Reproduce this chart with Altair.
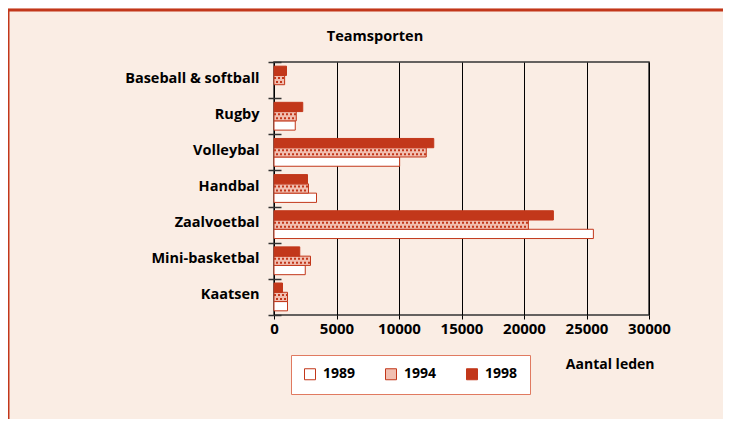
import altair as alt
import pandas as pd

sports = ["Baseball & softball", "Rugby", "Volleybal", "Handbal",
          "Zaalvoetbal", "Mini-basketbal", "Kaatsen"]
years = ["1989", "1994", "1998"]
v1989 = [None, 1700, 10050, 3400, 25550, 2500, 1080]
v1994 = [850, 1780, 12180, 2760, 20350, 2920, 1080]
v1998 = [1000, 2300, 12780, 2680, 22350, 2060, 680]
x_ticks = [0, 5000, 10000, 15000, 20000, 25000, 30000]
title_text = ["Teamsporten"]

RED = "#C2371A"
BG = "#FAEDE4"
FONT = "Open Sans"

rows = []
for yr, vals in zip(years, [v1989, v1994, v1998]):
    for s, v in zip(sports, vals):
        if v is not None:
            rows.append({"sport": s, "year": yr, "value": v, "zero": 0})
df = pd.DataFrame(rows)
df94 = df[df["year"] == "1994"]

y_enc = alt.Y("sport:N", sort=sports, title=None,
              scale=alt.Scale(paddingInner=0, paddingOuter=0),
              axis=alt.Axis(tickBand="extent", offset=-7, tickSize=13, domain=False,
                            tickColor="#333333", tickWidth=1.5,
                            labelPadding=9, labelFont=FONT, labelFontSize=14.5,
                            labelFontWeight="bold", labelColor="black", labelOffset=-2))
x_enc = alt.X("value:Q", scale=alt.Scale(domain=[0, 30000], nice=False),
              axis=alt.Axis(values=x_ticks, format="d", title="Aantal leden",
                            domain=False, grid=True, gridColor="black", gridWidth=1,
                            tickSize=4, tickColor="black", labelPadding=2,
                            labelFont=FONT, labelFontSize=15, labelFontWeight="bold",
                            labelColor="black", labelFlush=False,
                            titleFont=FONT, titleFontSize=14, titleFontWeight="bold",
                            titleAnchor="end", titleAlign="right", titleBaseline="middle",
                            titleX=380, titleY=49))

bars = alt.Chart(df).mark_bar(stroke=RED, strokeWidth=1).encode(
    y=y_enc,
    x=x_enc,
    yOffset=alt.YOffset("year:N", sort=["1998", "1994", "1989"],
                        scale=alt.Scale(paddingInner=0, paddingOuter=0.45)),
    color=alt.Color("year:N", sort=years,
                    scale=alt.Scale(domain=years, range=["white", "#F1BFB1", RED]),
                    legend=alt.Legend(orient="none", legendX=17, legendY=293,
                                      direction="horizontal", title=None,
                                      fillColor="white", strokeColor="#E07A60",
                                      padding=12, symbolType="square", symbolSize=121,
                                      symbolStrokeColor=RED, symbolStrokeWidth=1,
                                      labelFont=FONT, labelFontSize=14,
                                      labelFontWeight="bold", labelColor="black",
                                      labelOffset=6, columnPadding=27)),
)

dots1 = alt.Chart(df94).mark_rule(color=RED, strokeWidth=2, strokeDash=[2, 2],
                                  yOffset=-2).encode(
    y=alt.Y("sport:N", sort=sports), x="zero:Q", x2="value:Q")
dots2 = alt.Chart(df94).mark_rule(color=RED, strokeWidth=2, strokeDash=[2, 2],
                                  strokeDashOffset=2, yOffset=2).encode(
    y=alt.Y("sport:N", sort=sports), x="zero:Q", x2="value:Q")

one = pd.DataFrame({"t": title_text})
title = alt.Chart(one).mark_text(font=FONT, fontSize=14.5, fontWeight="bold",
                                 color="black", align="center", baseline="middle").encode(
    x=alt.value(101), y=alt.value(-25), text="t:N")
frame_left = alt.Chart(one).mark_rule(color=RED, strokeWidth=3).encode(
    x=alt.value(-266), y=alt.value(-53), y2=alt.value(420))
frame_top = alt.Chart(one).mark_rule(color=RED, strokeWidth=3).encode(
    x=alt.value(-267), x2=alt.value(470), y=alt.value(-52))

chart = alt.layer(bars, dots1, dots2, title, frame_left, frame_top).properties(
    width=375, height=253,
    autosize=alt.AutoSizeParams(type="none"),
    padding={"left": 266, "top": 54, "right": 74, "bottom": 104},
    background=BG,
).configure_view(stroke="#333333", strokeWidth=1.5)

chart.save("out.html", embed_options={"renderer": "svg", "actions": False})
